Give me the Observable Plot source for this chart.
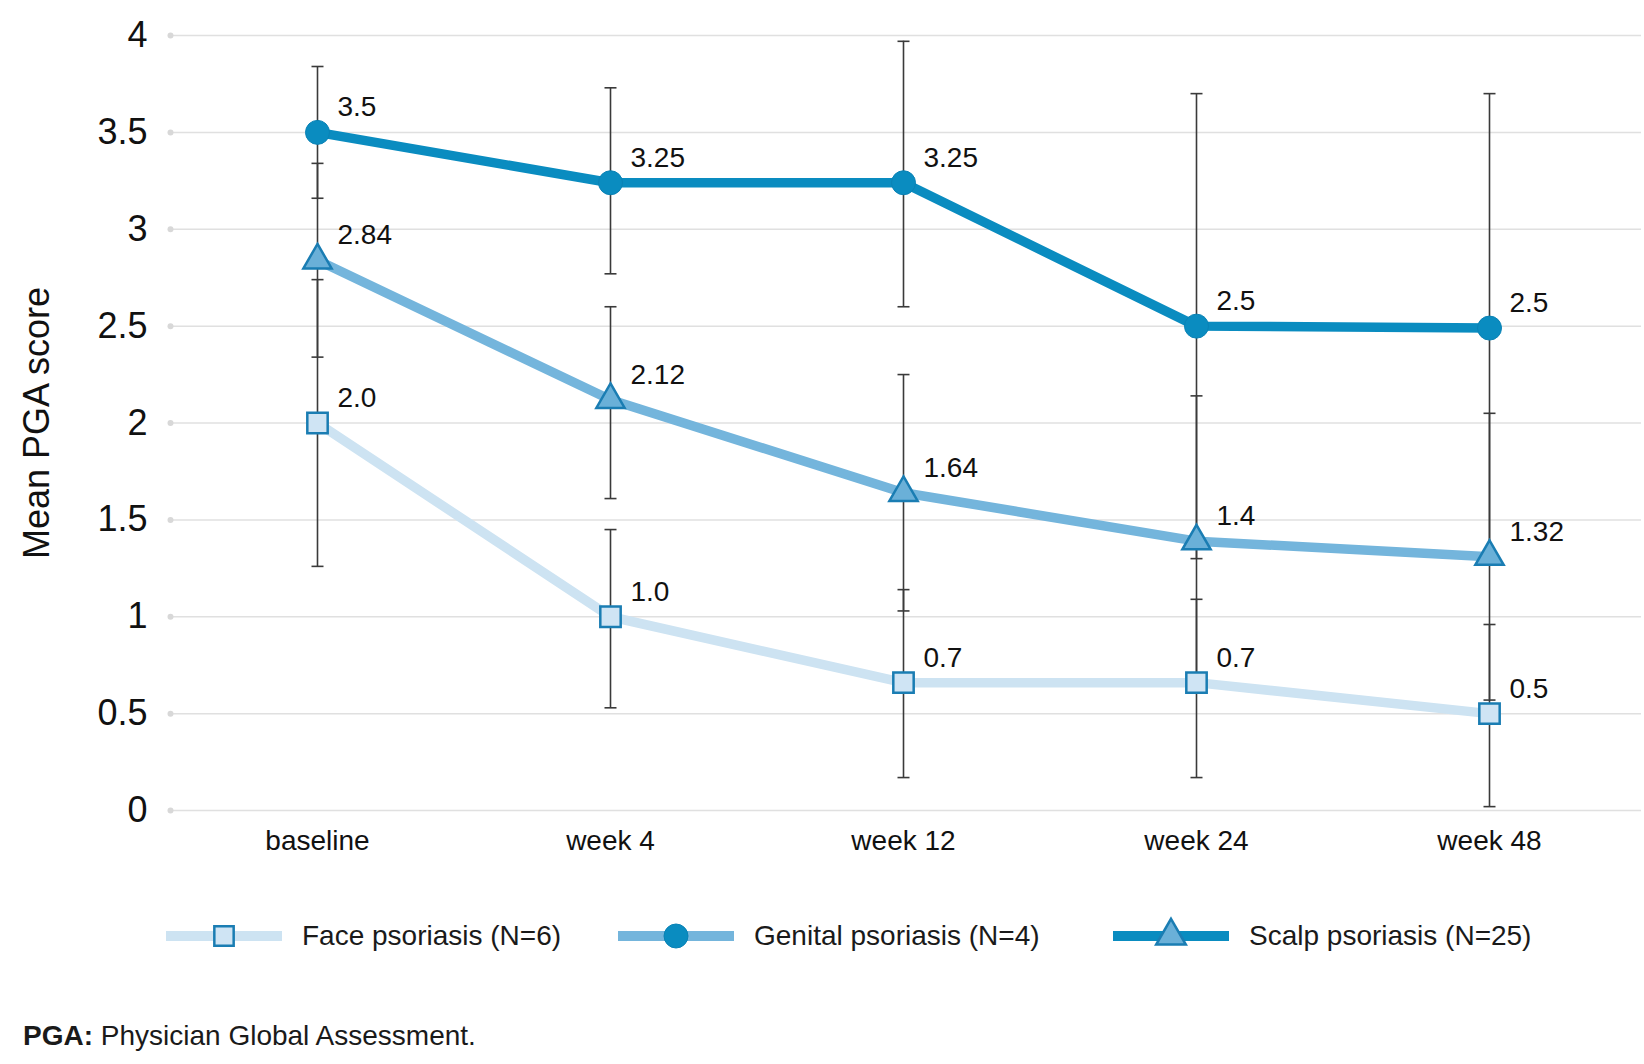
<!DOCTYPE html>
<html>
<head>
<meta charset="utf-8">
<script src="https://cdn.jsdelivr.net/npm/d3@7"></script>
<script src="https://cdn.jsdelivr.net/npm/@observablehq/plot@0.6"></script>
<style>
  html, body { margin: 0; padding: 0; background: #ffffff; }
  body { width: 1644px; height: 1064px; overflow: hidden; font-family: "Liberation Sans", Arial, sans-serif; color: #111; position: relative; }
  #chart { position: absolute; left: 0; top: 0; }
  #legend { position: absolute; left: 0; top: 916px; width: 1644px; height: 40px; }
  .item { position: absolute; top: 0; height: 40px; display: flex; align-items: center; font-size: 28px; color: #1a1a1a; }
  .item svg { display: block; margin-right: 20px; }
  #caption { position: absolute; left: 23px; top: 1019px; font-size: 28px; line-height: 34px; color: #1a1a1a; }
</style>
</head>
<body>
<div id="chart"></div>
<div id="legend"></div>
<div id="caption"></div>
<script>
// ---- data ----
const categories = ["baseline", "week 4", "week 12", "week 24", "week 48"];
const yTicks = [0, 0.5, 1, 1.5, 2, 2.5, 3, 3.5, 4];
const yLabel = "Mean PGA score";

const genitalName = "Genital psoriasis (N=4)";
const genitalMean = [3.5, 3.24, 3.24, 2.5, 2.49];
const genitalLow = [3.16, 2.77, 2.60, 1.30, 1.28];
const genitalHigh = [3.84, 3.73, 3.97, 3.70, 3.70];
const genitalLabels = ["3.5", "3.25", "3.25", "2.5", "2.5"];

const scalpName = "Scalp psoriasis (N=25)";
const scalpMean = [2.84, 2.12, 1.64, 1.39, 1.31];
const scalpLow = [2.34, 1.61, 1.03, 0.65, 0.57];
const scalpHigh = [3.34, 2.60, 2.25, 2.14, 2.05];
const scalpLabels = ["2.84", "2.12", "1.64", "1.4", "1.32"];

const faceName = "Face psoriasis (N=6)";
const faceMean = [2.0, 1.0, 0.66, 0.66, 0.5];
const faceLow = [1.26, 0.53, 0.17, 0.17, 0.02];
const faceHigh = [2.74, 1.45, 1.14, 1.09, 0.96];
const faceLabels = ["2.0", "1.0", "0.7", "0.7", "0.5"];

const legendNames = [faceName, genitalName, scalpName];
const captionBold = "PGA:";
const captionText = " Physician Global Assessment.";

// ---- styles ----
const darkBlue = "#0a8cc0";
const midBlue = "#74b5dc";
const lightBlue = "#cde3f2";
const markerStroke = "#1a7db3";
const triFill = "#6ab0d8";
const sqFill = "#cfe4f4";
const errColor = "#3a3a3a";

function rowsOf(name, mean, lo, hi, labels) {
  return categories.map((c, i) => ({series: name, cat: c, mean: mean[i], lo: lo[i], hi: hi[i], label: labels[i]}));
}
const faceRows = rowsOf(faceName, faceMean, faceLow, faceHigh, faceLabels);
const scalpRows = rowsOf(scalpName, scalpMean, scalpLow, scalpHigh, scalpLabels);
const genitalRows = rowsOf(genitalName, genitalMean, genitalLow, genitalHigh, genitalLabels);
const allRows = [...faceRows, ...scalpRows, ...genitalRows];

const capSymbol = {
  draw(ctx, size) {
    const w = Math.sqrt(size / Math.PI);
    ctx.moveTo(-w, 0);
    ctx.lineTo(w, 0);
  }
};

const chart = Plot.plot({
  width: 1644,
  height: 880,
  marginLeft: 170,
  marginRight: 3,
  marginTop: 35,
  marginBottom: 70,
  style: {fontFamily: "'Liberation Sans', Arial, sans-serif", color: "#111", background: "#fff"},
  x: {type: "point", domain: categories, range: [316, 1489], padding: 0},
  y: {domain: [0, 4]},
  marks: [
    Plot.ruleY(yTicks, {stroke: "#e0e0e0", strokeWidth: 1.5}),
    Plot.dot(yTicks, {y: d => d, frameAnchor: "left", r: 3, fill: "#d8d8d8"}),
    Plot.axisY({ticks: yTicks, tickFormat: d => String(d), tickSize: 0, tickPadding: 23, fontSize: 36, label: null}),
    Plot.axisX({tickSize: 0, tickPadding: 20, fontSize: 28, label: null}),
    Plot.text([yLabel], {text: d => d, frameAnchor: "left", textAnchor: "middle", rotate: -90, dx: -133, dy: 0, fontSize: 36, fill: "#111"}),
    // error bars
    Plot.ruleX(allRows, {x: "cat", y1: "lo", y2: "hi", stroke: errColor, strokeWidth: 1.6}),
    Plot.dot(allRows, {x: "cat", y: "lo", symbol: capSymbol, r: 6, stroke: errColor, strokeWidth: 1.6, fill: "none"}),
    Plot.dot(allRows, {x: "cat", y: "hi", symbol: capSymbol, r: 6, stroke: errColor, strokeWidth: 1.6, fill: "none"}),
    // lines
    Plot.line(faceRows, {x: "cat", y: "mean", stroke: lightBlue, strokeWidth: 9.5}),
    Plot.line(scalpRows, {x: "cat", y: "mean", stroke: midBlue, strokeWidth: 9.5}),
    Plot.line(genitalRows, {x: "cat", y: "mean", stroke: darkBlue, strokeWidth: 9.5}),
    // markers
    Plot.dot(faceRows, {x: "cat", y: "mean", symbol: "square", r: 11.5, fill: sqFill, stroke: markerStroke, strokeWidth: 2.5}),
    Plot.dot(scalpRows, {x: "cat", y: "mean", symbol: "triangle", r: 10.5, fill: triFill, stroke: markerStroke, strokeWidth: 2.5}),
    Plot.dot(genitalRows, {x: "cat", y: "mean", r: 12, fill: darkBlue, stroke: "#0a82b5", strokeWidth: 1}),
    // value labels
    Plot.text(allRows, {x: "cat", y: "mean", text: "label", dx: 20, dy: -25, textAnchor: "start", fontSize: 28, fill: "#111"})
  ]
});
document.getElementById("chart").appendChild(chart);

// ---- legend (as drawn in the reference) ----
const legendStyles = [
  {line: lightBlue, symbol: d3.symbolSquare, size: 11.5 * 11.5 * Math.PI * 0.9, fill: sqFill, stroke: markerStroke, sw: 2.5},
  {line: midBlue, symbol: d3.symbolCircle, size: 12 * 12 * Math.PI, fill: darkBlue, stroke: "#0a82b5", sw: 1},
  {line: darkBlue, symbol: d3.symbolTriangle, size: 10.5 * 10.5 * Math.PI * 1.1, fill: triFill, stroke: markerStroke, sw: 2.5}
];
const legendLeft = [166, 618, 1113];
const legend = document.getElementById("legend");
legendNames.forEach((name, i) => {
  const s = legendStyles[i];
  const item = document.createElement("div");
  item.className = "item";
  item.style.left = legendLeft[i] + "px";
  const ns = "http://www.w3.org/2000/svg";
  const svg = document.createElementNS(ns, "svg");
  svg.setAttribute("width", 116);
  svg.setAttribute("height", 40);
  const line = document.createElementNS(ns, "line");
  line.setAttribute("x1", 0); line.setAttribute("x2", 116);
  line.setAttribute("y1", 20); line.setAttribute("y2", 20);
  line.setAttribute("stroke", s.line); line.setAttribute("stroke-width", 10);
  svg.appendChild(line);
  const p = document.createElementNS(ns, "path");
  p.setAttribute("d", d3.symbol(s.symbol, s.size)());
  p.setAttribute("transform", "translate(58,20)");
  p.setAttribute("fill", s.fill); p.setAttribute("stroke", s.stroke); p.setAttribute("stroke-width", s.sw);
  svg.appendChild(p);
  item.appendChild(svg);
  const t = document.createElement("span");
  t.textContent = name;
  item.appendChild(t);
  legend.appendChild(item);
});

const cap = document.getElementById("caption");
const b = document.createElement("b");
b.textContent = captionBold;
cap.appendChild(b);
cap.appendChild(document.createTextNode(captionText));
</script>
</body>
</html>
